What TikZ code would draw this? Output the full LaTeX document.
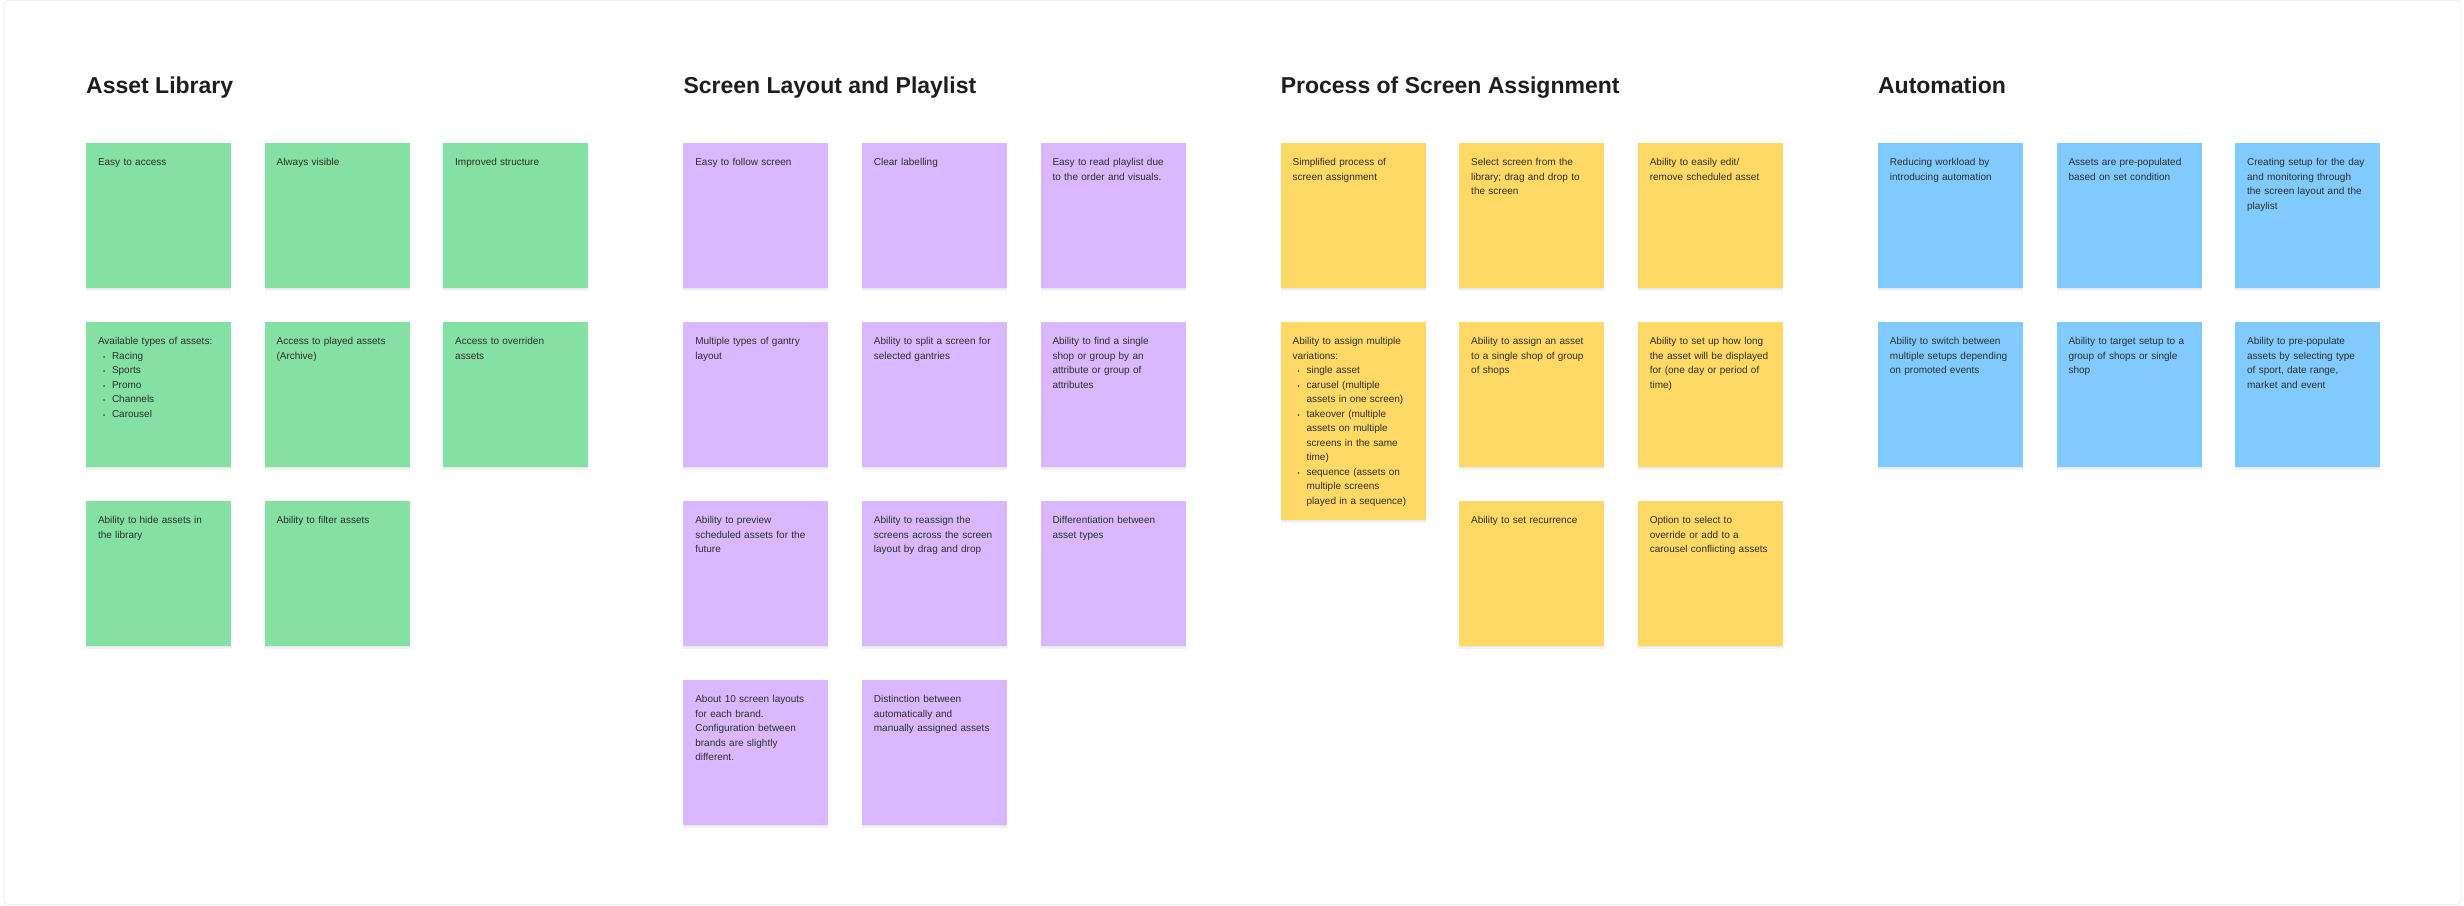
\documentclass[tikz,border=0pt]{standalone}
\usepackage{fontspec}
\setmainfont{Liberation Sans}
\definecolor{stgreen}{HTML}{85E0A3}
\definecolor{stviolet}{HTML}{D9B8FF}
\definecolor{styellow}{HTML}{FFD966}
\definecolor{stblue}{HTML}{80CAFF}
\definecolor{titlec}{HTML}{1E1E1E}
\definecolor{bodyc}{HTML}{2E2E2E}
\tikzset{
  stickybox/.style={draw=none, fill=#1, anchor=north west, minimum width=145pt,
    inner sep=0pt, outer sep=0pt,
    preaction={fill=black, opacity=0.05, transform canvas={yshift=-2.5pt}},
    preaction={fill=black, opacity=0.04, transform canvas={yshift=-1pt}}},
  stickytext/.style={anchor=north west, inner sep=0pt, outer sep=0pt, text width=135pt,
    align=left, text=bodyc, font=\fontsize{10}{14.5}\selectfont},
  heading/.style={anchor=base west, inner sep=0pt, text=titlec, font=\fontsize{23}{27}\selectfont\bfseries}
}
\newcommand{\stk}[6]{%
  \node[stickybox=#4, minimum height=#5pt] (#1) at (#2,#3) {};
  \node[stickytext] (#1t) at ([xshift=12pt,yshift=-14.5pt]#1.north west) {\rule{0pt}{8pt}#6};
}
\newcommand{\bul}{\makebox[14pt][l]{\hspace{5pt}{\fontsize{6}{6}\selectfont •}}}
\newcommand{\ind}{\hspace*{14pt}}
\begin{document}
\begin{tikzpicture}[x=1pt,y=-1pt]
\useasboundingbox (0,0) rectangle (2464,905);
\fill[white] (0,0) rectangle (2464,905);
\draw[black!7, line width=0.8pt, rounded corners=4pt] (4,0.5) rectangle (2461,904.5);

% column positions
\def\ca{86}\def\cb{264.6}\def\cc{443.2}
\def\cd{683.3}\def\ce{861.9}\def\cf{1040.5}
\def\cg{1280.6}\def\ch{1459.2}\def\ci{1637.8}
\def\cj{1877.9}\def\ck{2056.5}\def\cl{2235.1}

% headings
\node[heading] (h1) at (\ca,93) {Asset Library};
\node[heading] (h2) at (\cd,93) {Screen Layout and Playlist};
\node[heading] (h3) at (\cg,93) {Process of Screen Assignment};
\node[heading] (h4) at (\cj,93) {Automation};

% Asset Library
\stk{a11}{\ca}{143}{stgreen}{145}{Easy to access}
\stk{a12}{\cb}{143}{stgreen}{145}{Always visible}
\stk{a13}{\cc}{143}{stgreen}{145}{Improved structure}
\stk{a21}{\ca}{322}{stgreen}{145}{Available types of assets:\\\bul Racing\\\bul Sports\\\bul Promo\\\bul Channels\\\bul Carousel}
\stk{a22}{\cb}{322}{stgreen}{145}{Access to played assets\\(Archive)}
\stk{a23}{\cc}{322}{stgreen}{145}{Access to overriden\\assets}
\stk{a31}{\ca}{501}{stgreen}{145}{Ability to hide assets in\\the library}
\stk{a32}{\cb}{501}{stgreen}{145}{Ability to filter assets}

% Screen Layout and Playlist
\stk{b11}{\cd}{143}{stviolet}{145}{Easy to follow screen}
\stk{b12}{\ce}{143}{stviolet}{145}{Clear labelling}
\stk{b13}{\cf}{143}{stviolet}{145}{Easy to read playlist due\\to the order and visuals.}
\stk{b21}{\cd}{322}{stviolet}{145}{Multiple types of gantry\\layout}
\stk{b22}{\ce}{322}{stviolet}{145}{Ability to split a screen for\\selected gantries}
\stk{b23}{\cf}{322}{stviolet}{145}{Ability to find a single\\shop or group by an\\attribute or group of\\attributes}
\stk{b31}{\cd}{501}{stviolet}{145}{Ability to preview\\scheduled assets for the\\future}
\stk{b32}{\ce}{501}{stviolet}{145}{Ability to reassign the\\screens across the screen\\layout by drag and drop}
\stk{b33}{\cf}{501}{stviolet}{145}{Differentiation between\\asset types}
\stk{b41}{\cd}{680}{stviolet}{145}{About 10 screen layouts\\for each brand.\\Configuration between\\brands are slightly\\different.}
\stk{b42}{\ce}{680}{stviolet}{145}{Distinction between\\automatically and\\manually assigned assets}

% Process of Screen Assignment
\stk{c11}{\cg}{143}{styellow}{145}{Simplified process of\\screen assignment}
\stk{c12}{\ch}{143}{styellow}{145}{Select screen from the\\library; drag and drop to\\the screen}
\stk{c13}{\ci}{143}{styellow}{145}{Ability to easily edit/\\remove scheduled asset}
\stk{c21}{\cg}{322}{styellow}{198}{Ability to assign multiple\\variations:\\\bul single asset\\\bul carusel (multiple\\\ind assets in one screen)\\\bul takeover (multiple\\\ind assets on multiple\\\ind screens in the same\\\ind time)\\\bul sequence (assets on\\\ind multiple screens\\\ind played in a sequence)}
\stk{c22}{\ch}{322}{styellow}{145}{Ability to assign an asset\\to a single shop of group\\of shops}
\stk{c23}{\ci}{322}{styellow}{145}{Ability to set up how long\\the asset will be displayed\\for (one day or period of\\time)}
\stk{c32}{\ch}{501}{styellow}{145}{Ability to set recurrence}
\stk{c33}{\ci}{501}{styellow}{145}{Option to select to\\override or add to a\\carousel conflicting assets}

% Automation
\stk{d11}{\cj}{143}{stblue}{145}{Reducing workload by\\introducing automation}
\stk{d12}{\ck}{143}{stblue}{145}{Assets are pre-populated\\based on set condition}
\stk{d13}{\cl}{143}{stblue}{145}{Creating setup for the day\\and monitoring through\\the screen layout and the\\playlist}
\stk{d21}{\cj}{322}{stblue}{145}{Ability to switch between\\multiple setups depending\\on promoted events}
\stk{d22}{\ck}{322}{stblue}{145}{Ability to target setup to a\\group of shops or single\\shop}
\stk{d23}{\cl}{322}{stblue}{145}{Ability to pre-populate\\assets by selecting type\\of sport, date range,\\market and event}
\end{tikzpicture}
\end{document}
